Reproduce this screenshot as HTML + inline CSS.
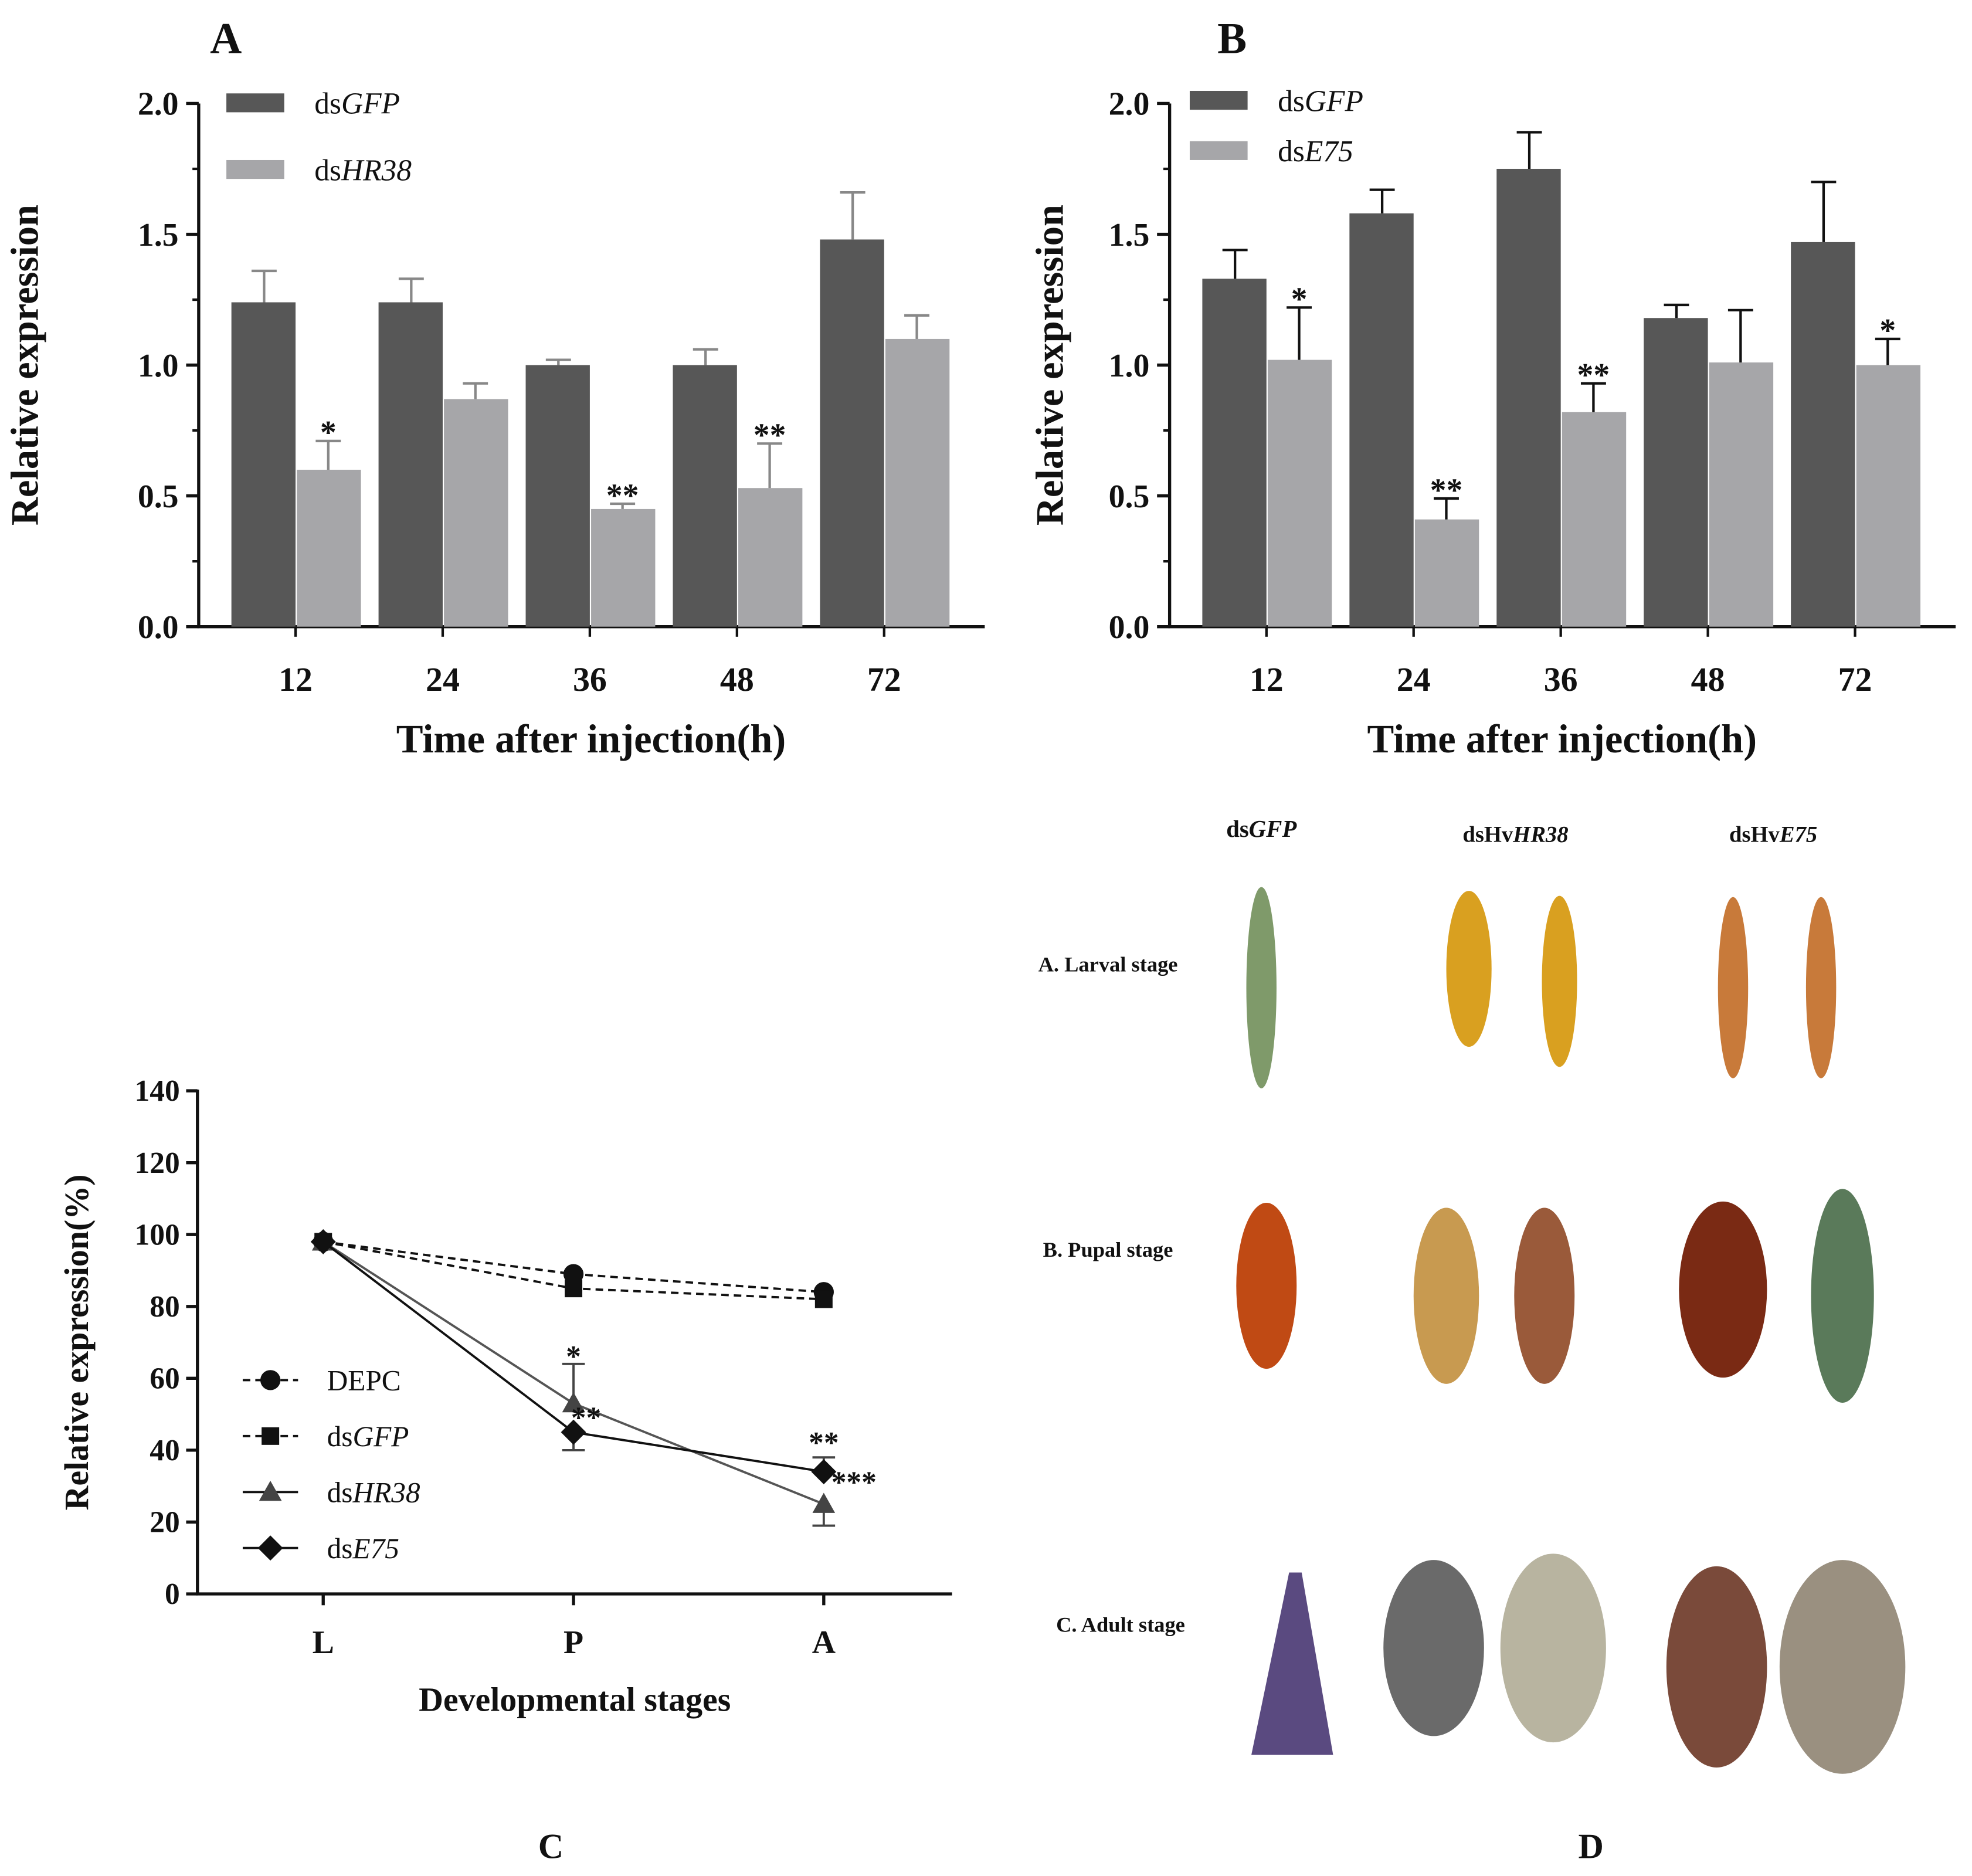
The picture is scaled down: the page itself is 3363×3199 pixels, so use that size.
<!DOCTYPE html>
<html><head><meta charset="utf-8"><style>html,body{margin:0;padding:0;background:#fff}svg{display:block}text{font-family:"Liberation Serif",serif;font-weight:bold;fill:#111}</style></head>
<body>
<svg id="fig" width="3363" height="3199" viewBox="0 0 1568 1491" xmlns="http://www.w3.org/2000/svg">
<g id="pA"></g>
<g id="pB"></g>
<g id="pC"></g>
<g id="pD">
<text x="1003" y="665" font-size="19" text-anchor="middle">ds<tspan font-style="italic">GFP</tspan></text>
<text x="1205" y="669" font-size="18" text-anchor="middle">dsHv<tspan font-style="italic">HR38</tspan></text>
<text x="1410" y="669" font-size="18" text-anchor="middle">dsHv<tspan font-style="italic">E75</tspan></text>
<text x="881" y="772" font-size="17" text-anchor="middle">A. Larval stage</text>
<text x="881" y="999" font-size="17" text-anchor="middle">B. Pupal stage</text>
<text x="891" y="1297" font-size="17" text-anchor="middle">C. Adult stage</text>
<ellipse cx="1003" cy="785" rx="12" ry="80" fill="#7f9a6a"/>
<ellipse cx="1168" cy="770" rx="18" ry="62" fill="#d9a020"/>
<ellipse cx="1240" cy="780" rx="14" ry="68" fill="#d9a020"/>
<ellipse cx="1378" cy="785" rx="12" ry="72" fill="#c87a3a"/>
<ellipse cx="1448" cy="785" rx="12" ry="72" fill="#c87a3a"/>
<ellipse cx="1007" cy="1022" rx="24" ry="66" fill="#c04a14"/>
<ellipse cx="1150" cy="1030" rx="26" ry="70" fill="#c89a50"/>
<ellipse cx="1228" cy="1030" rx="24" ry="70" fill="#9a5a3a"/>
<ellipse cx="1370" cy="1025" rx="35" ry="70" fill="#7a2a14"/>
<ellipse cx="1465" cy="1030" rx="25" ry="85" fill="#5a7a5a"/>
<polygon points="1025,1250 995,1395 1060,1395 1035,1250" fill="#5a4a80"/>
<ellipse cx="1140" cy="1310" rx="40" ry="70" fill="#6a6a6a"/>
<ellipse cx="1235" cy="1310" rx="42" ry="75" fill="#b8b4a0"/>
<ellipse cx="1365" cy="1325" rx="40" ry="80" fill="#7a4a3a"/>
<ellipse cx="1465" cy="1325" rx="50" ry="85" fill="#9a9080"/>
</g>
<text x="438" y="1477" font-size="28" text-anchor="middle">C</text>
<text x="1265" y="1477" font-size="28" text-anchor="middle">D</text>
</svg>
<script>
const NS="http://www.w3.org/2000/svg";
function mk(p,tag,attrs,txt){const e=document.createElementNS(NS,tag);for(const k in attrs)e.setAttribute(k,attrs[k]);if(txt!=null)e.textContent=txt;p.appendChild(e);return e;}
const barCats=["12","24","36","48","72"];
const aGFP=[1.24,1.24,1.00,1.00,1.48];
const aGFPerr=[0.12,0.09,0.02,0.06,0.18];
const aHR38=[0.60,0.87,0.45,0.53,1.10];
const aHR38err=[0.11,0.06,0.02,0.17,0.09];
const aStars=["*","","**","**",""];
const bGFP=[1.33,1.58,1.75,1.18,1.47];
const bGFPerr=[0.11,0.09,0.14,0.05,0.23];
const bE75=[1.02,0.41,0.82,1.01,1.00];
const bE75err=[0.20,0.08,0.11,0.20,0.10];
const bStars=["*","**","**","","*"];
const barTicks=["0.0","0.5","1.0","1.5","2.0"];

function barChart(g,ox,legend,d1,e1,d2,e2,stars,errCol,title,ytx){
  const y0=498,ppu=208,x0=ox,x1=ox+625;
  const Y=v=>y0-v*ppu, C=i=>ox+77+i*117;
  mk(g,"line",{x1:x0,y1:82,x2:x0,y2:y0+1,stroke:"#111","stroke-width":2.5});
  mk(g,"line",{x1:x0-1,y1:y0,x2:x1,y2:y0,stroke:"#111","stroke-width":2.5});
  barTicks.forEach((t,i)=>{const v=parseFloat(t);
    mk(g,"line",{x1:x0-10,x2:x0,y1:Y(v),y2:Y(v),stroke:"#111","stroke-width":2.5});
    if(i<4)mk(g,"line",{x1:x0-5,x2:x0,y1:Y(v+0.25),y2:Y(v+0.25),stroke:"#111","stroke-width":2});
    const tt=mk(g,"text",{x:x0-16,y:Y(v)+9,"font-size":26,"text-anchor":"end"},t);
    
    
  });
  barCats.forEach((c,i)=>{
    const cx=C(i);
    const r1=mk(g,"rect",{x:cx-51,y:Y(d1[i]),width:51,height:d1[i]*ppu,fill:"#575757"});
    
    
    const r2=mk(g,"rect",{x:cx+1,y:Y(d2[i]),width:51,height:d2[i]*ppu,fill:"#a6a6a9"});
    
    
    mk(g,"line",{x1:cx-25,x2:cx-25,y1:Y(d1[i]),y2:Y(d1[i]+e1[i]),stroke:errCol,"stroke-width":2});
    mk(g,"line",{x1:cx-35,x2:cx-15,y1:Y(d1[i]+e1[i]),y2:Y(d1[i]+e1[i]),stroke:errCol,"stroke-width":2});
    mk(g,"line",{x1:cx+26,x2:cx+26,y1:Y(d2[i]),y2:Y(d2[i]+e2[i]),stroke:errCol,"stroke-width":2});
    mk(g,"line",{x1:cx+16,x2:cx+36,y1:Y(d2[i]+e2[i]),y2:Y(d2[i]+e2[i]),stroke:errCol,"stroke-width":2});
    if(stars[i]){const s=mk(g,"text",{x:cx+26,y:Y(d2[i]+e2[i])+2,"font-size":26,"text-anchor":"middle"},stars[i]);
      
      }
    mk(g,"line",{x1:cx,x2:cx,y1:y0,y2:y0+8,stroke:"#111","stroke-width":2});
    const l=mk(g,"text",{x:cx,y:549,"font-size":27,"text-anchor":"middle"},c);
    
    
  });
  const xt=mk(g,"text",{x:ox+312,y:598,"font-size":32,"text-anchor":"middle"},"Time after injection(h)");
  
  
  const yt=mk(g,"text",{x:ytx,y:290,"font-size":31,"text-anchor":"middle",transform:`rotate(-90 ${ytx} 290)`},"Relative expression");
  
  
  const tl=mk(g,"text",{x:title[1],y:42,"font-size":35},title[0]);
  
  
  legend.forEach((L,i)=>{
    const lr=mk(g,"rect",{x:L.x,y:L.y-8,width:46,height:15,fill:i?"#a6a6a9":"#575757"});
    
    
    const lt=mk(g,"text",{x:L.x+70,y:L.y+8,"font-size":24,"font-weight":"normal"});
    
    
    mk(lt,"tspan",{"font-weight":"normal"},"ds");mk(lt,"tspan",{"font-style":"italic","font-weight":"normal"},L.t);
  });
}
barChart(document.getElementById("pA"),158,[{x:180,y:82,t:"GFP"},{x:180,y:135,t:"HR38"}],aGFP,aGFPerr,aHR38,aHR38err,aStars,"#888",["A",167],30);
barChart(document.getElementById("pB"),930,[{x:946,y:80,t:"GFP"},{x:946,y:120,t:"E75"}],bGFP,bGFPerr,bE75,bE75err,bStars,"#111",["B",968],845);

const stages=["L","P","A"];
const depc=[98,89,84];
const dsgfp=[98,85,82];
const dshr38=[98,53,25];
const dshr38err=[0,11,6];
const dse75=[98,45,34];
const dse75err=[0,5,4];
const cTicks=[0,20,40,60,80,100,120,140];
const cStars=[{t:"*",s:1,v:64,dx:0},{t:"**",s:1,v:47,dx:10},{t:"**",s:2,v:40,dx:0},{t:"***",s:2,v:29,dx:24}];
(function(){
  const g=document.getElementById("pC");
  const y0=1267,ppv=400/140,x0=157;
  const Y=v=>y0-v*ppv, X=i=>257+i*199;
  mk(g,"line",{x1:x0,x2:x0,y1:866,y2:y0+1,stroke:"#111","stroke-width":2.5});
  mk(g,"line",{x1:x0-1,x2:757,y1:y0,y2:y0,stroke:"#111","stroke-width":2.5});
  cTicks.forEach(v=>{mk(g,"line",{x1:x0-9,x2:x0,y1:Y(v),y2:Y(v),stroke:"#111","stroke-width":2.5});
    const t=mk(g,"text",{x:x0-14,y:Y(v)+8,"font-size":24,"text-anchor":"end"},v);
    
    });
  stages.forEach((s,i)=>{mk(g,"line",{x1:X(i),x2:X(i),y1:y0,y2:y0+9,stroke:"#111","stroke-width":2.5});
    const t=mk(g,"text",{x:X(i),y:1314,"font-size":26,"text-anchor":"middle"},s);
    
    });
  function marker(p,type,x,y){
    if(type==="circle")return mk(p,"circle",{cx:x,cy:y,r:8,fill:"#111"});
    if(type==="square")return mk(p,"rect",{x:x-7,y:y-7,width:14,height:14,fill:"#111"});
    if(type==="tri")return mk(p,"polygon",{points:`${x},${y-9} ${x-9},${y+7} ${x+9},${y+7}`,fill:"#444"});
    return mk(p,"polygon",{points:`${x},${y-10} ${x+10},${y} ${x},${y+10} ${x-10},${y}`,fill:"#111"});
  }
  const series=[{d:depc,e:null,m:"circle",dash:"6,4",n:"DEPC"},{d:dsgfp,e:null,m:"square",dash:"6,4",n:"GFP"},{d:dshr38,e:dshr38err,m:"tri",dash:"",n:"HR38"},{d:dse75,e:dse75err,m:"diamond",dash:"",n:"E75"}];
  series.forEach((s,k)=>{
    const pl=mk(g,"polyline",{points:s.d.map((v,i)=>X(i)+","+Y(v)).join(" "),fill:"none",stroke:k===2?"#555":"#111","stroke-width":1.8,"stroke-dasharray":s.dash});
    
    
    s.d.forEach((v,i)=>{
      if(s.e&&s.e[i]){const dir=(k===2&&i===1)||(k===3&&i===2)?1:-1;
        const ye=Y(v+dir*s.e[i]);
        mk(g,"line",{x1:X(i),x2:X(i),y1:Y(v),y2:ye,stroke:"#444","stroke-width":1.8});
        mk(g,"line",{x1:X(i)-9,x2:X(i)+9,y1:ye,y2:ye,stroke:"#444","stroke-width":1.8});}
      const m=marker(g,s.m,X(i),Y(v));
      
      
    });
    const ly=1097+k*44.5;
    mk(g,"line",{x1:193,x2:237,y1:ly,y2:ly,stroke:"#111","stroke-width":1.8,"stroke-dasharray":s.dash});
    const lm=marker(g,s.m,215,ly);
    
    
    const lt=mk(g,"text",{x:260,y:ly+8,"font-size":23,"font-weight":"normal"});
    
    
    if(k===0)mk(lt,"tspan",{"font-weight":"normal"},"DEPC");
    else{mk(lt,"tspan",{"font-weight":"normal"},"ds");mk(lt,"tspan",{"font-weight":"normal","font-style":"italic"},s.n);}
  });
  cStars.forEach(c=>{const t=mk(g,"text",{x:X(c.s)+c.dx,y:Y(c.v)+2,"font-size":24,"text-anchor":"middle"},c.t);
    
    });
  const yt=mk(g,"text",{x:70,y:1067,"font-size":27,"text-anchor":"middle",transform:"rotate(-90 70 1067)"},"Relative expression(%)");
  
  
  const xt=mk(g,"text",{x:457,y:1360,"font-size":27,"text-anchor":"middle"},"Developmental stages");
  
  
})();
</script>
</body></html>
